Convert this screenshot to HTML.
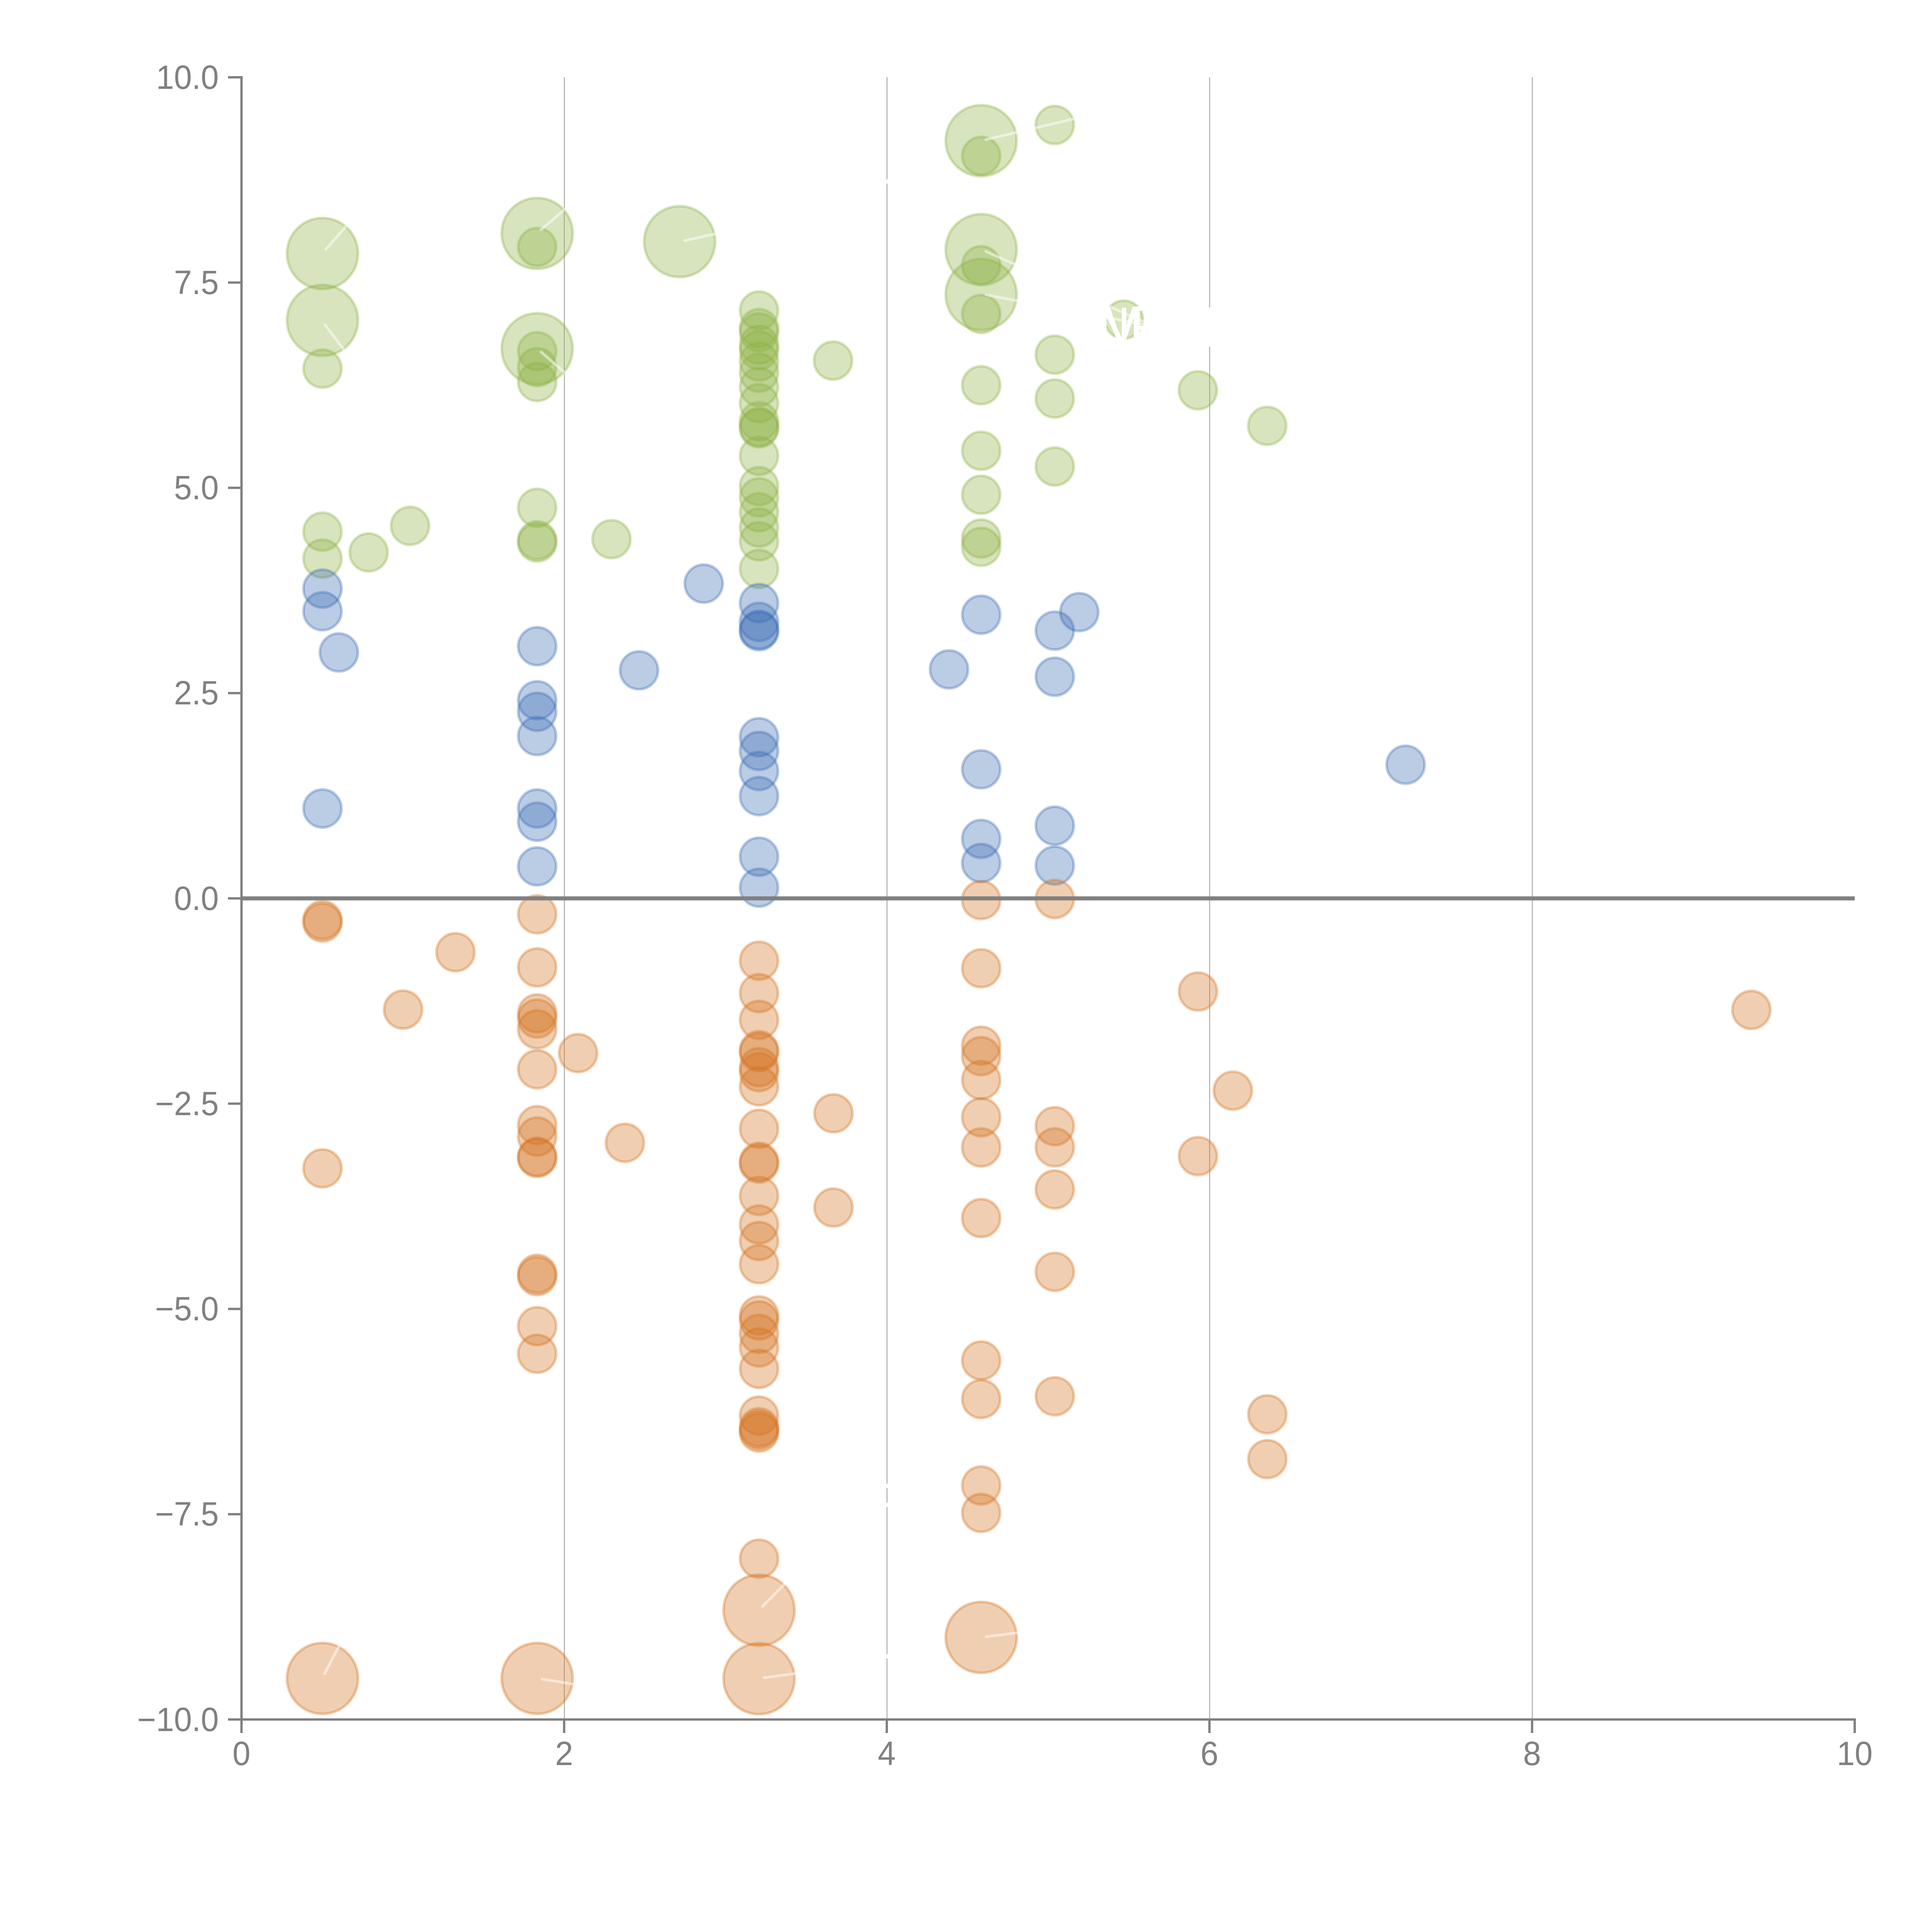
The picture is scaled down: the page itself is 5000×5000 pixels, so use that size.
<!DOCTYPE html>
<html><head><meta charset="utf-8"><title>plot</title>
<style>html,body{margin:0;padding:0;background:#fff;width:5000px;height:5000px;overflow:hidden}svg{display:block}</style></head>
<body>
<svg width="5000" height="5000" viewBox="0 0 5000 5000">
<rect width="5000" height="5000" fill="#fff"/>
<g stroke="#707070" stroke-width="1.39"><line x1="1460.5" y1="200" x2="1460.5" y2="4450"/><line x1="2295.5" y1="200" x2="2295.5" y2="4450"/><line x1="3130.5" y1="200" x2="3130.5" y2="4450"/><line x1="3965.5" y1="200" x2="3965.5" y2="4450"/></g>
<g fill="rgb(141,178,69)" stroke="rgb(141,178,69)" fill-opacity="0.35" stroke-opacity="0.35" stroke-width="6.94"><circle cx="834.6" cy="656.0" r="91.9"/><circle cx="834.6" cy="829.0" r="91.9"/><circle cx="1390.2" cy="604.0" r="91.9"/><circle cx="1390.2" cy="902.3" r="91.9"/><circle cx="1758.9" cy="625.4" r="91.9"/><circle cx="2539.3" cy="364.0" r="91.9"/><circle cx="2539.3" cy="645.8" r="91.9"/><circle cx="2539.3" cy="762.3" r="91.9"/><circle cx="834.6" cy="954.0" r="49.1"/><circle cx="834.6" cy="1375.9" r="49.1"/><circle cx="834.6" cy="1445.8" r="49.1"/><circle cx="954.0" cy="1429.7" r="49.1"/><circle cx="1061.2" cy="1360.9" r="49.1"/><circle cx="1390.2" cy="639.1" r="49.1"/><circle cx="1390.2" cy="908.7" r="49.1"/><circle cx="1390.2" cy="950.2" r="49.1"/><circle cx="1390.2" cy="988.7" r="49.1"/><circle cx="1390.2" cy="1314.1" r="49.1"/><circle cx="1390.2" cy="1398.2" r="49.1"/><circle cx="1390.2" cy="1404.0" r="49.1"/><circle cx="1582.5" cy="1395.4" r="49.1"/><circle cx="1964.4" cy="803.5" r="49.1"/><circle cx="1964.4" cy="849.1" r="49.1"/><circle cx="1964.4" cy="859.8" r="49.1"/><circle cx="1964.4" cy="892.1" r="49.1"/><circle cx="1964.4" cy="906.4" r="49.1"/><circle cx="1964.4" cy="935.5" r="49.1"/><circle cx="1964.4" cy="964.6" r="49.1"/><circle cx="1964.4" cy="1001.5" r="49.1"/><circle cx="1964.4" cy="1043.2" r="49.1"/><circle cx="1964.4" cy="1090.4" r="49.1"/><circle cx="1964.4" cy="1105.0" r="49.1"/><circle cx="1964.4" cy="1108.4" r="49.1"/><circle cx="1964.4" cy="1179.8" r="49.1"/><circle cx="1964.4" cy="1258.1" r="49.1"/><circle cx="1964.4" cy="1287.0" r="49.1"/><circle cx="1964.4" cy="1325.6" r="49.1"/><circle cx="1964.4" cy="1365.3" r="49.1"/><circle cx="1964.4" cy="1400.8" r="49.1"/><circle cx="1964.4" cy="1472.3" r="49.1"/><circle cx="2539.3" cy="403.3" r="49.1"/><circle cx="2539.3" cy="686.2" r="49.1"/><circle cx="2539.3" cy="812.5" r="49.1"/><circle cx="2539.3" cy="997.0" r="49.1"/><circle cx="2539.3" cy="1166.5" r="49.1"/><circle cx="2539.3" cy="1280.3" r="49.1"/><circle cx="2539.3" cy="1393.7" r="49.1"/><circle cx="2539.3" cy="1415.2" r="49.1"/><circle cx="2729.8" cy="323.3" r="49.1"/><circle cx="2729.8" cy="917.8" r="49.1"/><circle cx="2729.8" cy="1031.4" r="49.1"/><circle cx="2729.8" cy="1207.3" r="49.1"/><circle cx="2155.9" cy="933.3" r="49.1"/><circle cx="2908.5" cy="827.2" r="49.1"/><circle cx="3100.2" cy="1010.0" r="49.1"/><circle cx="3279.6" cy="1102.0" r="49.1"/></g>
<g fill="rgb(61,109,181)" stroke="rgb(61,109,181)" fill-opacity="0.35" stroke-opacity="0.35" stroke-width="6.94"><circle cx="834.6" cy="1523.4" r="49.1"/><circle cx="834.6" cy="1581.9" r="49.1"/><circle cx="834.6" cy="2092.4" r="49.1"/><circle cx="876.9" cy="1688.5" r="49.1"/><circle cx="1390.2" cy="1672.3" r="49.1"/><circle cx="1390.2" cy="1812.2" r="49.1"/><circle cx="1390.2" cy="1842.1" r="49.1"/><circle cx="1390.2" cy="1905.0" r="49.1"/><circle cx="1390.2" cy="2092.4" r="49.1"/><circle cx="1390.2" cy="2126.6" r="49.1"/><circle cx="1390.2" cy="2242.2" r="49.1"/><circle cx="1653.8" cy="1734.8" r="49.1"/><circle cx="1821.2" cy="1510.3" r="49.1"/><circle cx="1964.4" cy="1560.7" r="49.1"/><circle cx="1964.4" cy="1609.4" r="49.1"/><circle cx="1964.4" cy="1629.8" r="49.1"/><circle cx="1964.4" cy="1633.5" r="49.1"/><circle cx="1964.4" cy="1907.9" r="49.1"/><circle cx="1964.4" cy="1943.4" r="49.1"/><circle cx="1964.4" cy="1995.4" r="49.1"/><circle cx="1964.4" cy="2060.4" r="49.1"/><circle cx="1964.4" cy="2217.1" r="49.1"/><circle cx="1964.4" cy="2297.2" r="49.1"/><circle cx="2539.3" cy="1590.9" r="49.1"/><circle cx="2539.3" cy="1991.0" r="49.1"/><circle cx="2539.3" cy="2171.0" r="49.1"/><circle cx="2539.3" cy="2233.4" r="49.1"/><circle cx="2729.8" cy="1632.0" r="49.1"/><circle cx="2729.8" cy="1751.3" r="49.1"/><circle cx="2729.8" cy="2136.9" r="49.1"/><circle cx="2729.8" cy="2240.1" r="49.1"/><circle cx="2793.2" cy="1584.2" r="49.1"/><circle cx="2456.1" cy="1732.3" r="49.1"/><circle cx="3637.7" cy="1979.0" r="49.1"/></g>
<g fill="rgb(212,115,32)" stroke="rgb(212,115,32)" fill-opacity="0.35" stroke-opacity="0.35" stroke-width="6.94"><circle cx="834.6" cy="4343.6" r="91.9"/><circle cx="1390.2" cy="4343.6" r="91.9"/><circle cx="1964.4" cy="4167.2" r="91.9"/><circle cx="1964.4" cy="4344.5" r="91.9"/><circle cx="2539.3" cy="4237.5" r="91.9"/><circle cx="834.6" cy="2381.0" r="49.1"/><circle cx="834.6" cy="2387.4" r="49.1"/><circle cx="834.6" cy="3023.7" r="49.1"/><circle cx="1178.8" cy="2464.3" r="49.1"/><circle cx="1043.2" cy="2612.8" r="49.1"/><circle cx="1390.2" cy="2366.2" r="49.1"/><circle cx="1390.2" cy="2503.6" r="49.1"/><circle cx="1390.2" cy="2622.6" r="49.1"/><circle cx="1390.2" cy="2636.0" r="49.1"/><circle cx="1390.2" cy="2664.0" r="49.1"/><circle cx="1390.2" cy="2767.4" r="49.1"/><circle cx="1390.2" cy="2911.9" r="49.1"/><circle cx="1390.2" cy="2941.4" r="49.1"/><circle cx="1390.2" cy="2993.7" r="49.1"/><circle cx="1390.2" cy="2996.8" r="49.1"/><circle cx="1390.2" cy="3296.5" r="49.1"/><circle cx="1390.2" cy="3302.7" r="49.1"/><circle cx="1390.2" cy="3432.1" r="49.1"/><circle cx="1390.2" cy="3503.5" r="49.1"/><circle cx="1496.1" cy="2725.4" r="49.1"/><circle cx="1617.2" cy="2957.5" r="49.1"/><circle cx="1964.4" cy="2486.4" r="49.1"/><circle cx="1964.4" cy="2570.2" r="49.1"/><circle cx="1964.4" cy="2639.4" r="49.1"/><circle cx="1964.4" cy="2717.8" r="49.1"/><circle cx="1964.4" cy="2723.0" r="49.1"/><circle cx="1964.4" cy="2761.8" r="49.1"/><circle cx="1964.4" cy="2774.7" r="49.1"/><circle cx="1964.4" cy="2811.5" r="49.1"/><circle cx="1964.4" cy="2921.4" r="49.1"/><circle cx="1964.4" cy="3006.7" r="49.1"/><circle cx="1964.4" cy="3011.4" r="49.1"/><circle cx="1964.4" cy="3095.0" r="49.1"/><circle cx="1964.4" cy="3169.0" r="49.1"/><circle cx="1964.4" cy="3211.7" r="49.1"/><circle cx="1964.4" cy="3271.8" r="49.1"/><circle cx="1964.4" cy="3404.2" r="49.1"/><circle cx="1964.4" cy="3417.1" r="49.1"/><circle cx="1964.4" cy="3452.0" r="49.1"/><circle cx="1964.4" cy="3487.2" r="49.1"/><circle cx="1964.4" cy="3542.6" r="49.1"/><circle cx="1964.4" cy="3663.6" r="49.1"/><circle cx="1964.4" cy="3693.9" r="49.1"/><circle cx="1964.4" cy="3700.4" r="49.1"/><circle cx="1964.4" cy="3707.4" r="49.1"/><circle cx="1964.4" cy="4033.7" r="49.1"/><circle cx="2157.0" cy="2881.2" r="49.1"/><circle cx="2157.0" cy="3125.1" r="49.1"/><circle cx="2539.3" cy="2329.4" r="49.1"/><circle cx="2539.3" cy="2505.9" r="49.1"/><circle cx="2539.3" cy="2706.2" r="49.1"/><circle cx="2539.3" cy="2733.4" r="49.1"/><circle cx="2539.3" cy="2795.0" r="49.1"/><circle cx="2539.3" cy="2891.6" r="49.1"/><circle cx="2539.3" cy="2969.6" r="49.1"/><circle cx="2539.3" cy="3152.3" r="49.1"/><circle cx="2539.3" cy="3520.8" r="49.1"/><circle cx="2539.3" cy="3620.7" r="49.1"/><circle cx="2539.3" cy="3844.3" r="49.1"/><circle cx="2539.3" cy="3915.3" r="49.1"/><circle cx="2729.8" cy="2326.6" r="49.1"/><circle cx="2729.8" cy="2914.5" r="49.1"/><circle cx="2729.8" cy="2969.4" r="49.1"/><circle cx="2729.8" cy="3078.3" r="49.1"/><circle cx="2729.8" cy="3291.5" r="49.1"/><circle cx="2729.8" cy="3613.5" r="49.1"/><circle cx="3100.4" cy="2566.0" r="49.1"/><circle cx="3190.6" cy="2822.5" r="49.1"/><circle cx="3100.4" cy="2992.0" r="49.1"/><circle cx="3279.9" cy="3660.2" r="49.1"/><circle cx="3279.9" cy="3776.2" r="49.1"/><circle cx="4532.5" cy="2613.6" r="49.1"/></g>
<line x1="625" y1="2325.0" x2="4800" y2="2325.0" stroke="#808080" stroke-width="10.4"/>
<g stroke="#808080" stroke-width="6" stroke-linecap="butt"><line x1="625" y1="197" x2="625" y2="4453"/><line x1="622" y1="4450" x2="4803" y2="4450"/><line x1="625.0" y1="4450" x2="625.0" y2="4485"/><line x1="1460.0" y1="4450" x2="1460.0" y2="4485"/><line x1="2295.0" y1="4450" x2="2295.0" y2="4485"/><line x1="3130.0" y1="4450" x2="3130.0" y2="4485"/><line x1="3965.0" y1="4450" x2="3965.0" y2="4485"/><line x1="4800.0" y1="4450" x2="4800.0" y2="4485"/><line x1="590" y1="200.0" x2="625" y2="200.0"/><line x1="590" y1="731.25" x2="625" y2="731.25"/><line x1="590" y1="1262.5" x2="625" y2="1262.5"/><line x1="590" y1="1793.75" x2="625" y2="1793.75"/><line x1="590" y1="2325.0" x2="625" y2="2325.0"/><line x1="590" y1="2856.25" x2="625" y2="2856.25"/><line x1="590" y1="3387.5" x2="625" y2="3387.5"/><line x1="590" y1="3918.75" x2="625" y2="3918.75"/><line x1="590" y1="4450.0" x2="625" y2="4450.0"/></g>
<g stroke="#fff" stroke-opacity="0.5" stroke-width="6.94" stroke-linecap="round"><line x1="843.3" y1="645.4" x2="897.8" y2="583.0"/><line x1="840.9" y1="840.2" x2="892" y2="907.8"/><line x1="1400.2" y1="594.3" x2="1466" y2="538.0"/><line x1="1400.2" y1="911.1" x2="1466" y2="967.9"/><line x1="1771.8" y1="622.8" x2="1858" y2="603.7"/><line x1="2551.3" y1="361.4" x2="2790" y2="305.0"/><line x1="2551.2" y1="650.7" x2="2975" y2="839.3"/><line x1="2551.8" y1="763.0" x2="2975" y2="842.6"/><line x1="1973.3" y1="4157.5" x2="2034" y2="4096"/><line x1="1977.6" y1="4341.8" x2="2064" y2="4330.4"/><line x1="839.8" y1="4331.4" x2="880" y2="4255.2"/><line x1="1402.9" y1="4345.3" x2="1490" y2="4359.5"/><line x1="2552.0" y1="4235.7" x2="2640" y2="4224.7"/></g>
<g font-family="'Liberation Sans', Arial, sans-serif" font-size="83.3" fill="#808080"><text transform="translate(625.0,4568.3) scale(1,1.04)" text-anchor="middle">0</text><text transform="translate(1460.0,4568.3) scale(1,1.04)" text-anchor="middle">2</text><text transform="translate(2295.0,4568.3) scale(1,1.04)" text-anchor="middle">4</text><text transform="translate(3130.0,4568.3) scale(1,1.04)" text-anchor="middle">6</text><text transform="translate(3965.0,4568.3) scale(1,1.04)" text-anchor="middle">8</text><text transform="translate(4800.0,4568.3) scale(1,1.04)" text-anchor="middle">10</text><text transform="translate(566,229.5) scale(1,1.04)" text-anchor="end">10.0</text><text transform="translate(566,760.75) scale(1,1.04)" text-anchor="end">7.5</text><text transform="translate(566,1292.0) scale(1,1.04)" text-anchor="end">5.0</text><text transform="translate(566,1823.25) scale(1,1.04)" text-anchor="end">2.5</text><text transform="translate(566,2354.5) scale(1,1.04)" text-anchor="end">0.0</text><text transform="translate(566,2885.75) scale(1,1.04)" text-anchor="end">−2.5</text><text transform="translate(566,3417.0) scale(1,1.04)" text-anchor="end">−5.0</text><text transform="translate(566,3948.25) scale(1,1.04)" text-anchor="end">−7.5</text><text transform="translate(566,4479.5) scale(1,1.04)" text-anchor="end">−10.0</text></g>
<g font-family="'Liberation Sans', Arial, sans-serif" font-size="138.9" fill="#fff"><text transform="matrix(1.0741,0,0,1.4041,2844.84,895.20)" font-size="100" stroke="#fff" stroke-width="2.5">N</text><text transform="matrix(1.2823,0,0,1.4884,2859.04,895.50)" font-size="100">V</text><text transform="matrix(1.6081,0,0,1.4448,2921.21,892.50)" font-size="100">P</text><text transform="matrix(1.3948,0,0,1.4738,3111.13,897.00)" font-size="100">I</text><text transform="matrix(1.2027,0,0,1.4535,2277.29,563.90)" font-size="100">T</text><text transform="matrix(1.3902,0,0,1.4273,2250.60,3938.00)" font-size="100">P</text><text transform="matrix(1.2027,0,0,1.4535,2277.29,4381.30)" font-size="100">T</text></g>
</svg>
</body></html>
